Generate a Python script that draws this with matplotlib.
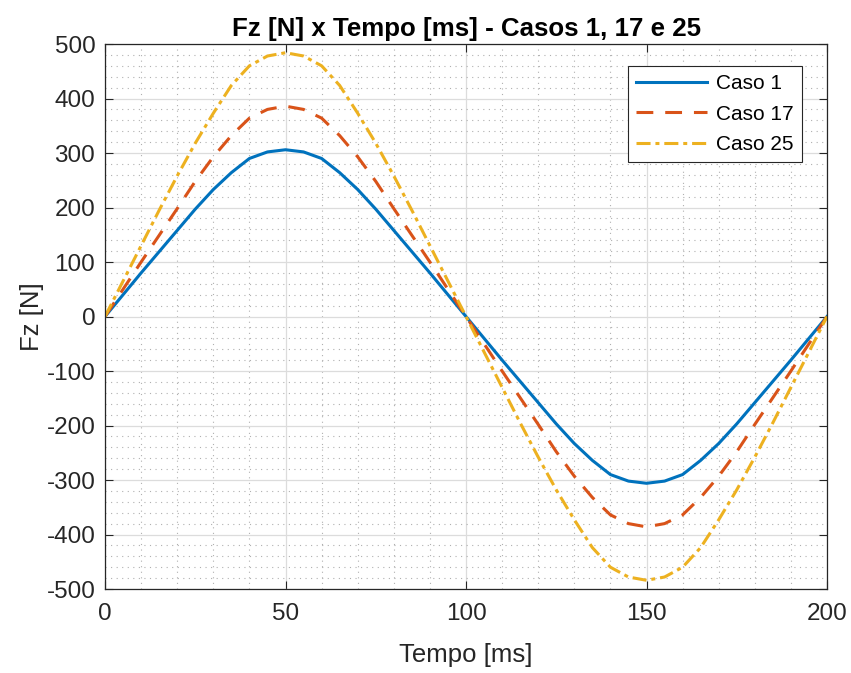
import numpy as np
import matplotlib
matplotlib.use("Agg")
import matplotlib.pyplot as plt
from matplotlib.ticker import MultipleLocator

plt.rcParams['font.family'] = ['Liberation Sans', 'DejaVu Sans']
plt.rcParams['axes.unicode_minus'] = False

# time samples [ms]
tempo = list(range(0, 201, 5))

# Fz [N], every 5 ms
caso_1 = [0, 40, 80, 119, 158, 197, 233, 264, 290, 302, 306,
          302, 290, 264, 233, 197, 158, 119, 80, 40, 0,
          -40, -80, -119, -158, -197, -233, -264, -290, -302, -306,
          -302, -290, -264, -233, -197, -158, -119, -80, -40, 0]
caso_17 = [0, 50, 100, 149, 198, 248, 293, 332, 364, 380, 386,
           380, 364, 332, 293, 248, 198, 149, 100, 50, 0,
           -50, -100, -149, -198, -248, -293, -332, -364, -380, -386,
           -380, -364, -332, -293, -248, -198, -149, -100, -50, 0]
caso_25 = [0, 65, 130, 195, 258, 318, 373, 424, 460, 478, 484,
           478, 460, 424, 373, 318, 258, 195, 130, 65, 0,
           -65, -130, -195, -258, -318, -373, -424, -460, -478, -484,
           -478, -460, -424, -373, -318, -258, -195, -130, -65, 0]

labels = ["Caso 1", "Caso 17", "Caso 25"]
axis_col = "#262626"

fig = plt.figure(figsize=(8.51, 6.73), dpi=100)
ax = fig.add_axes([0.1234, 0.1248, 0.9718 - 0.1234, 0.9346 - 0.1248])

lw = 2.2
ax.plot(tempo, caso_1, color="#0072BD", lw=lw, label=labels[0])
ax.plot(tempo, caso_17, color="#D95319", lw=lw, linestyle=(0, (5.5, 3.9)), label=labels[1])
ax.plot(tempo, caso_25, color="#EDB120", lw=lw, linestyle=(0, (4.6, 1.6, 1.3, 1.6)), label=labels[2])

ax.set_xlim(0, 200)
ax.set_ylim(-500, 500)
ax.xaxis.set_major_locator(MultipleLocator(50))
ax.xaxis.set_minor_locator(MultipleLocator(10))
ax.yaxis.set_major_locator(MultipleLocator(100))
ax.yaxis.set_minor_locator(MultipleLocator(20))

ax.grid(which="major", color="#dcdcdc", linewidth=0.9, linestyle="-")
ax.grid(which="minor", color="#b0b0b0", linewidth=0.8, linestyle=(0, (1, 4)))
ax.set_axisbelow(True)

ax.tick_params(which="major", direction="in", length=6, width=0.8, colors=axis_col,
               top=True, right=True, labelsize=17.5)
ax.tick_params(axis="x", which="major", pad=10)
ax.tick_params(axis="y", which="major", pad=7)
ax.tick_params(which="minor", length=0, top=True, right=True)
for s in ax.spines.values():
    s.set_color(axis_col)
    s.set_linewidth(0.9)

ax.set_xlabel("Tempo [ms]", fontsize=18.5, color=axis_col, labelpad=13)
ax.set_ylabel("Fz [N]", fontsize=18.5, color=axis_col, labelpad=2)
ax.set_title("Fz [N] x Tempo [ms] - Casos 1, 17 e 25", fontsize=18.6, fontweight="bold", pad=6)

leg = ax.legend(loc="upper right", bbox_to_anchor=(0.966, 0.96), fontsize=15, frameon=True,
                fancybox=False, framealpha=1, edgecolor=axis_col, handlelength=3.4,
                handletextpad=0.45, borderpad=0.4, labelspacing=0.55, borderaxespad=0)
leg.get_frame().set_linewidth(0.8)

fig.savefig("out.png", dpi=100)
